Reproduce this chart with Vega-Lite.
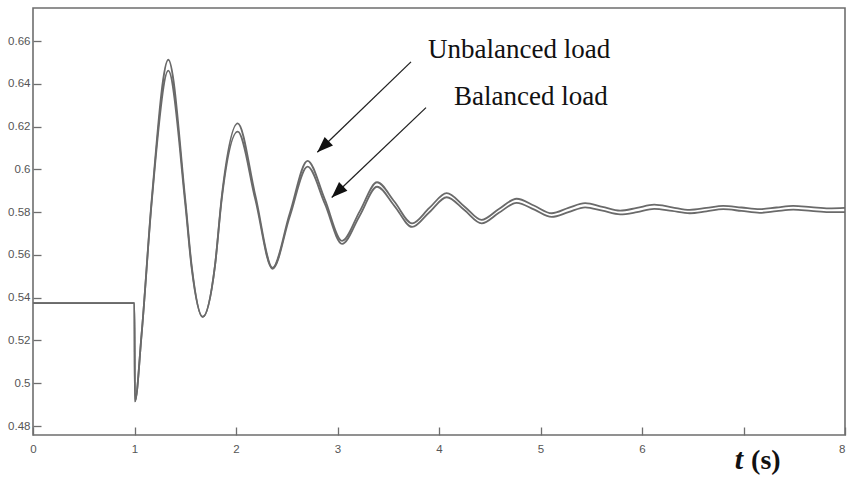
{
  "$schema": "https://vega.github.io/schema/vega-lite/v6.json",
  "width": 812,
  "height": 427,
  "autosize": {"type": "none"},
  "padding": {"left": 33, "top": 8, "right": 2, "bottom": 51},
  "background": "white",
  "config": {
    "view": {"stroke": "#6e6e6e", "strokeWidth": 1.6},
    "axis": {
      "domain": false,
      "grid": false,
      "tickSize": 8,
      "offset": -8,
      "tickColor": "#6e6e6e",
      "tickWidth": 1.3,
      "labelFont": "Liberation Sans Narrow, Liberation Sans, sans-serif",
      "labelFontSize": 11.5,
      "labelColor": "#555555",
      "title": null
    }
  },
  "datasets": {
    "curves": [
      {"t": 0, "v": 0.5375, "load": "Unbalanced"},
      {"t": 0.999, "v": 0.5375, "load": "Unbalanced"},
      {"t": 1.004, "v": 0.4915, "load": "Unbalanced"},
      {"t": 1.07, "v": 0.523, "load": "Unbalanced"},
      {"t": 1.17, "v": 0.586, "load": "Unbalanced"},
      {"t": 1.333, "v": 0.6513, "load": "Unbalanced"},
      {"t": 1.5, "v": 0.586, "load": "Unbalanced"},
      {"t": 1.563, "v": 0.555, "load": "Unbalanced"},
      {"t": 1.672, "v": 0.531, "load": "Unbalanced"},
      {"t": 1.793, "v": 0.555, "load": "Unbalanced"},
      {"t": 1.859, "v": 0.587, "load": "Unbalanced"},
      {"t": 2.017, "v": 0.6215, "load": "Unbalanced"},
      {"t": 2.19, "v": 0.588, "load": "Unbalanced"},
      {"t": 2.36, "v": 0.554, "load": "Unbalanced"},
      {"t": 2.53, "v": 0.5795, "load": "Unbalanced"},
      {"t": 2.705, "v": 0.604, "load": "Unbalanced"},
      {"t": 2.875, "v": 0.586, "load": "Unbalanced"},
      {"t": 3.045, "v": 0.5666, "load": "Unbalanced"},
      {"t": 3.22, "v": 0.5805, "load": "Unbalanced"},
      {"t": 3.39, "v": 0.594, "load": "Unbalanced"},
      {"t": 3.56, "v": 0.585, "load": "Unbalanced"},
      {"t": 3.735, "v": 0.5748, "load": "Unbalanced"},
      {"t": 3.905, "v": 0.582, "load": "Unbalanced"},
      {"t": 4.076, "v": 0.5889, "load": "Unbalanced"},
      {"t": 4.25, "v": 0.5827, "load": "Unbalanced"},
      {"t": 4.42, "v": 0.5764, "load": "Unbalanced"},
      {"t": 4.59, "v": 0.5815, "load": "Unbalanced"},
      {"t": 4.765, "v": 0.5863, "load": "Unbalanced"},
      {"t": 4.94, "v": 0.583, "load": "Unbalanced"},
      {"t": 5.11, "v": 0.5795, "load": "Unbalanced"},
      {"t": 5.275, "v": 0.582, "load": "Unbalanced"},
      {"t": 5.44, "v": 0.5842, "load": "Unbalanced"},
      {"t": 5.61, "v": 0.5825, "load": "Unbalanced"},
      {"t": 5.785, "v": 0.5807, "load": "Unbalanced"},
      {"t": 5.95, "v": 0.582, "load": "Unbalanced"},
      {"t": 6.12, "v": 0.5835, "load": "Unbalanced"},
      {"t": 6.295, "v": 0.5823, "load": "Unbalanced"},
      {"t": 6.47, "v": 0.5811, "load": "Unbalanced"},
      {"t": 6.635, "v": 0.582, "load": "Unbalanced"},
      {"t": 6.8, "v": 0.583, "load": "Unbalanced"},
      {"t": 6.98, "v": 0.5822, "load": "Unbalanced"},
      {"t": 7.16, "v": 0.5814, "load": "Unbalanced"},
      {"t": 7.325, "v": 0.5822, "load": "Unbalanced"},
      {"t": 7.49, "v": 0.583, "load": "Unbalanced"},
      {"t": 7.665, "v": 0.5824, "load": "Unbalanced"},
      {"t": 7.84, "v": 0.5818, "load": "Unbalanced"},
      {"t": 8.0, "v": 0.582, "load": "Unbalanced"},
      {"t": 0, "v": 0.5375, "load": "Balanced"},
      {"t": 0.999, "v": 0.5375, "load": "Balanced"},
      {"t": 1.004, "v": 0.4915, "load": "Balanced"},
      {"t": 1.07, "v": 0.523, "load": "Balanced"},
      {"t": 1.17, "v": 0.585, "load": "Balanced"},
      {"t": 1.333, "v": 0.6462, "load": "Balanced"},
      {"t": 1.5, "v": 0.584, "load": "Balanced"},
      {"t": 1.563, "v": 0.554, "load": "Balanced"},
      {"t": 1.672, "v": 0.531, "load": "Balanced"},
      {"t": 1.793, "v": 0.555, "load": "Balanced"},
      {"t": 1.859, "v": 0.586, "load": "Balanced"},
      {"t": 2.017, "v": 0.6177, "load": "Balanced"},
      {"t": 2.19, "v": 0.586, "load": "Balanced"},
      {"t": 2.36, "v": 0.5535, "load": "Balanced"},
      {"t": 2.53, "v": 0.578, "load": "Balanced"},
      {"t": 2.705, "v": 0.6013, "load": "Balanced"},
      {"t": 2.875, "v": 0.584, "load": "Balanced"},
      {"t": 3.045, "v": 0.5652, "load": "Balanced"},
      {"t": 3.22, "v": 0.5785, "load": "Balanced"},
      {"t": 3.39, "v": 0.5919, "load": "Balanced"},
      {"t": 3.56, "v": 0.583, "load": "Balanced"},
      {"t": 3.735, "v": 0.5731, "load": "Balanced"},
      {"t": 3.905, "v": 0.58, "load": "Balanced"},
      {"t": 4.076, "v": 0.587, "load": "Balanced"},
      {"t": 4.25, "v": 0.581, "load": "Balanced"},
      {"t": 4.42, "v": 0.5748, "load": "Balanced"},
      {"t": 4.59, "v": 0.5797, "load": "Balanced"},
      {"t": 4.765, "v": 0.5844, "load": "Balanced"},
      {"t": 4.94, "v": 0.5812, "load": "Balanced"},
      {"t": 5.11, "v": 0.5778, "load": "Balanced"},
      {"t": 5.275, "v": 0.58, "load": "Balanced"},
      {"t": 5.44, "v": 0.5823, "load": "Balanced"},
      {"t": 5.61, "v": 0.5807, "load": "Balanced"},
      {"t": 5.785, "v": 0.579, "load": "Balanced"},
      {"t": 5.95, "v": 0.58, "load": "Balanced"},
      {"t": 6.12, "v": 0.5816, "load": "Balanced"},
      {"t": 6.295, "v": 0.5806, "load": "Balanced"},
      {"t": 6.47, "v": 0.5795, "load": "Balanced"},
      {"t": 6.635, "v": 0.5804, "load": "Balanced"},
      {"t": 6.8, "v": 0.5814, "load": "Balanced"},
      {"t": 6.98, "v": 0.5806, "load": "Balanced"},
      {"t": 7.16, "v": 0.5797, "load": "Balanced"},
      {"t": 7.325, "v": 0.5805, "load": "Balanced"},
      {"t": 7.49, "v": 0.5812, "load": "Balanced"},
      {"t": 7.665, "v": 0.5806, "load": "Balanced"},
      {"t": 7.84, "v": 0.58, "load": "Balanced"},
      {"t": 8.0, "v": 0.58, "load": "Balanced"}
    ],
    "labels": [
      {"t": 3.892, "v": 0.6519, "text": "Unbalanced load"},
      {"t": 4.148, "v": 0.63, "text": "Balanced load"}
    ],
    "arrows": [
      {"t": 3.724, "v": 0.6503, "t2": 2.801, "v2": 0.608},
      {"t": 3.872, "v": 0.6289, "t2": 2.943, "v2": 0.5869}
    ],
    "xtitle_t": [{"t": 6.915, "v": 0.4598, "text": "t"}],
    "xtitle_s": [{"t": 7.075, "v": 0.4598, "text": "(s)"}]
  },
  "layer": [
    {
      "data": {"name": "curves"},
      "mark": {"type": "line", "interpolate": "monotone", "strokeWidth": 1.8, "color": "#6a6a6a"},
      "encoding": {
        "x": {
          "field": "t", "type": "quantitative",
          "scale": {"domain": [0, 8], "nice": false, "zero": false},
          "axis": {
            "values": [0, 1, 2, 3, 4, 5, 6, 7, 8],
            "labelPadding": 8,
            "labelExpr": "datum.value == 7 ? '' : format(datum.value, '~g')",
            "labelFlush": false,
            "labelAlign": {"condition": {"test": "datum.value == 8", "value": "right"}, "value": "center"}
          }
        },
        "y": {
          "field": "v", "type": "quantitative",
          "scale": {"domain": [0.4758, 0.6755], "nice": false, "zero": false},
          "axis": {
            "values": [0.48, 0.5, 0.52, 0.54, 0.56, 0.58, 0.6, 0.62, 0.64, 0.66],
            "labelExpr": "format(datum.value, '~g')",
            "labelPadding": 3,
            "labelFlush": false
          }
        },
        "detail": {"field": "load"}
      }
    },
    {
      "data": {"name": "arrows"},
      "mark": {"type": "rule", "color": "#222222", "strokeWidth": 1.3},
      "encoding": {
        "x": {"field": "t", "type": "quantitative"},
        "y": {"field": "v", "type": "quantitative"},
        "x2": {"field": "t2"},
        "y2": {"field": "v2"}
      }
    },
    {
      "data": {"name": "arrows"},
      "mark": {"type": "point", "shape": "M0,0L-0.75,2L0.75,2Z", "filled": true, "color": "#111111", "size": 256, "angle": 226, "opacity": 1},
      "encoding": {
        "x": {"field": "t2", "type": "quantitative"},
        "y": {"field": "v2", "type": "quantitative"}
      }
    },
    {
      "data": {"name": "labels"},
      "mark": {"type": "text", "font": "Liberation Serif", "fontSize": 27, "align": "left", "baseline": "alphabetic", "color": "#111111"},
      "encoding": {
        "x": {"field": "t", "type": "quantitative"},
        "y": {"field": "v", "type": "quantitative"},
        "text": {"field": "text"}
      }
    },
    {
      "data": {"name": "xtitle_t"},
      "mark": {"type": "text", "font": "Liberation Serif", "fontSize": 30, "fontWeight": "bold", "fontStyle": "italic", "align": "left", "baseline": "alphabetic", "color": "#111111"},
      "encoding": {
        "x": {"field": "t", "type": "quantitative"},
        "y": {"field": "v", "type": "quantitative"},
        "text": {"field": "text"}
      }
    },
    {
      "data": {"name": "xtitle_s"},
      "mark": {"type": "text", "font": "Liberation Serif", "fontSize": 28, "fontWeight": "bold", "align": "left", "baseline": "alphabetic", "color": "#111111"},
      "encoding": {
        "x": {"field": "t", "type": "quantitative"},
        "y": {"field": "v", "type": "quantitative"},
        "text": {"field": "text"}
      }
    }
  ]
}
